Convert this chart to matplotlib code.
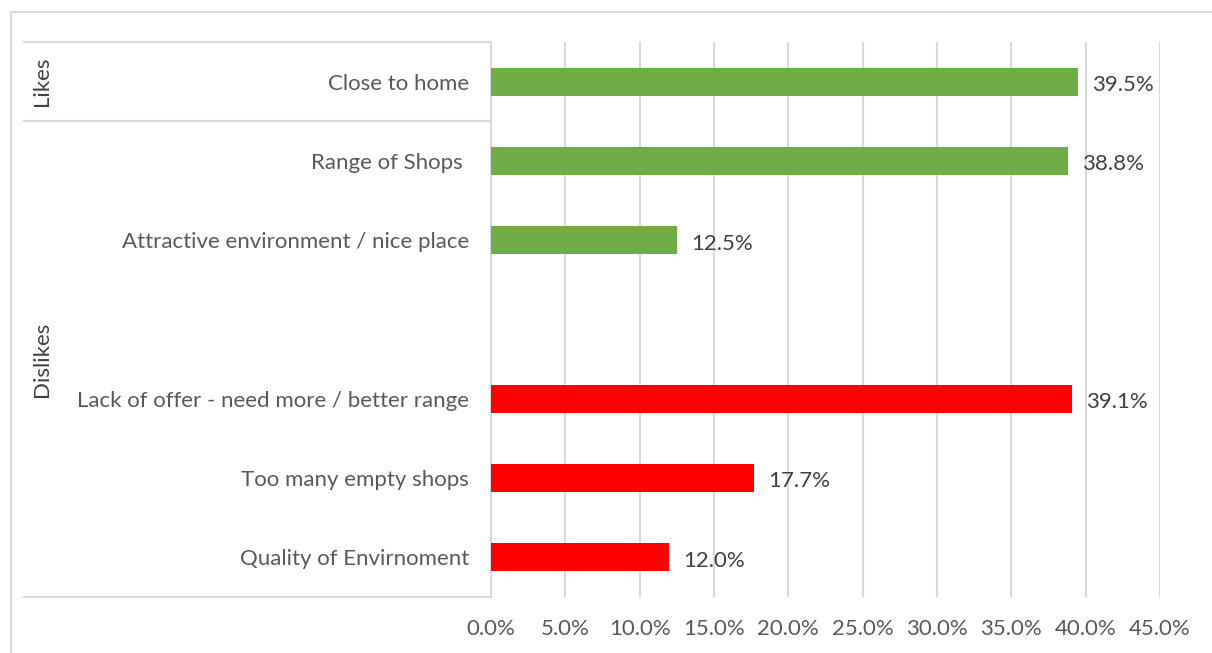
import matplotlib
matplotlib.use("Agg")
import matplotlib.pyplot as plt
import matplotlib.transforms as mtransforms
from matplotlib.patches import Rectangle

plt.rcParams['font.family'] = ['Lato', 'DejaVu Sans']

# Survey answers, in percent
likes_labels = ["Close to home", "Range of Shops ", "Attractive environment / nice place"]
likes_values = [39.5, 38.8, 12.5]
dislikes_labels = ["Lack of offer - need more / better range", "Too many empty shops",
                   "Quality of Envirnoment"]
dislikes_values = [39.1, 17.7, 12.0]
x_ticks = [0, 5, 10, 15, 20, 25, 30, 35, 40, 45]

# category groups on the y axis: name and number of rows it spans
group_names = ["Likes", "Dislikes"]
group_rows = [1, 6]

GREEN = "#70AD47"
RED = "#FF0000"
TEXT = "#595959"
GRID = "#D9D9D9"
FS = 16

W, H = 1212, 653
fig = plt.figure(figsize=(W / 100, H / 100), dpi=100)

# outer chart frame
fig.patches.append(Rectangle((11 / W, -0.1), 1.2, (H - 12) / H + 0.1, transform=fig.transFigure,
                             fill=False, edgecolor=GRID, linewidth=1.5))

left, right, top, bottom = 491, 1160, 42, 597
ax = fig.add_axes([left / W, (H - bottom) / H, (right - left) / W, (bottom - top) / H])

# one empty slot between the two series
likes_pos = list(range(len(likes_values)))
dislikes_pos = [len(likes_values) + 1 + i for i in range(len(dislikes_values))]
n_slots = len(likes_values) + 1 + len(dislikes_values)

ax.barh(likes_pos, likes_values, height=0.355, color=GREEN, zorder=3)
ax.barh(dislikes_pos, dislikes_values, height=0.355, color=RED, zorder=3)

for p, v in zip(likes_pos + dislikes_pos, likes_values + dislikes_values):
    ax.annotate(f"{v:.1f}%", (v, p), xytext=(10, -1), textcoords="offset points",
                ha="left", va="center_baseline", fontsize=FS, color="#404040")

ax.set_xlim(0, 45)
ax.set_ylim(n_slots - 0.5, -0.5)
ax.set_xticks(x_ticks)
ax.set_xticklabels([f"{t:.1f}%" for t in x_ticks], fontsize=FS, color=TEXT)
ax.set_yticks(likes_pos + dislikes_pos)
ax.set_yticklabels(likes_labels + dislikes_labels, fontsize=FS, color=TEXT)
ax.tick_params(axis="both", length=0)
ax.tick_params(axis="y", pad=16)
ax.tick_params(axis="x", pad=16)
ax.grid(axis="x", color=GRID, linewidth=1.5, zorder=0)
for s in ["top", "right", "bottom"]:
    ax.spines[s].set_visible(False)
ax.spines["left"].set_color(GRID)
ax.spines["left"].set_linewidth(1.5)

# group brackets on the left
tr = mtransforms.blended_transform_factory(ax.transAxes, ax.transData)
x0 = (24 - left) / (right - left)
xg = (42 - left) / (right - left)
start = -0.5
ax.plot([x0, 0], [start, start], color=GRID, linewidth=1.5, transform=tr, clip_on=False)
for name, rows in zip(group_names, group_rows):
    end = start + rows
    ax.plot([x0, 0], [end, end], color=GRID, linewidth=1.5, transform=tr, clip_on=False)
    ax.text(xg, (start + end) / 2, name, rotation=90, ha="center", va="center",
            fontsize=FS, color="#404040", transform=tr)
    start = end

fig.savefig("out.png", dpi=100)
